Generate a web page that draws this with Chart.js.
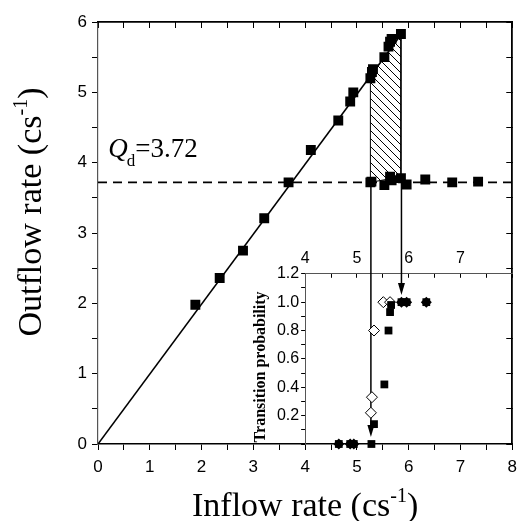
<!DOCTYPE html>
<html><head><meta charset="utf-8">
<script src="https://cdn.jsdelivr.net/npm/chart.js@4"></script>
<style>
html,body{margin:0;padding:0;background:#fff;}
#wrap{position:relative;width:524px;height:521px;}
#wrap canvas{position:absolute;left:0;top:0;}
</style></head><body>
<div id="wrap"><canvas id="main" width="524" height="521"></canvas><canvas id="inset" width="524" height="521"></canvas></div>
<script>
// ---------- data (main panel) ----------
const linearX = [1.88, 2.35, 2.80, 3.21, 3.68, 4.11, 4.64, 4.87, 4.93, 5.26, 5.29, 5.31, 5.53, 5.61, 5.64, 5.67, 5.85];
const linearY = [1.98, 2.36, 2.75, 3.21, 3.72, 4.18, 4.60, 4.87, 5.00, 5.20, 5.29, 5.33, 5.50, 5.65, 5.72, 5.76, 5.83];
const flatX = [5.26, 5.28, 5.53, 5.64, 5.67, 5.85, 5.96, 6.32, 6.84, 7.34];
const flatY = [3.72, 3.73, 3.68, 3.80, 3.75, 3.78, 3.69, 3.76, 3.72, 3.73];
const fitX = [0, 5.85];
const fitY = [0, 5.82];
const qdValue = 3.72;
const qdLabel = "3.72";
const hatchX = [5.26, 5.26, 5.85, 5.85, 5.26];
const hatchY = [3.72, 5.22, 5.83, 3.80, 3.72];
const arrowX = [5.27, 5.86];
const arrowFromY = [3.72, 3.78];     // main-panel outflow value
const arrowToP = [0.05, 1.05];       // inset probability value
const xTickLabels = [0, 1, 2, 3, 4, 5, 6, 7, 8];
const yTickLabels = [0, 1, 2, 3, 4, 5, 6];

// ---------- data (inset) ----------
const sqX = [5.28, 5.33, 5.53, 5.61, 5.64, 5.66];
const sqY = [0, 0.14, 0.42, 0.80, 0.93, 0.98];
const starX = [4.65, 4.87, 4.94, 5.86, 5.96, 6.34];
const starY = [0, 0, 0, 1.0, 1.0, 1.0];
const diaX = [5.27, 5.29, 5.33, 5.51, 5.64];
const diaY = [0.22, 0.33, 0.80, 1.0, 1.0];
const insetXTickLabels = [4, 5, 6, 7];
const insetYTickLabels = [0.2, 0.4, 0.6, 0.8, 1.0, 1.2];
const insetTopOutflow = 2.42;   // where the inset's top edge sits on the main y axis

const pts = (xs, ys) => xs.map((x, i) => ({x, y: ys[i]}));

const W = 524, H = 521;
const SANS = "'Liberation Sans', Arial, sans-serif";
const SERIF = "'Liberation Serif', 'Times New Roman', serif";

// hatch pattern
function hatchPattern() {
  const c = document.createElement('canvas');
  c.width = 8; c.height = 8;
  const g = c.getContext('2d');
  g.strokeStyle = '#000'; g.lineWidth = 1;
  g.beginPath();
  g.moveTo(-1, -1); g.lineTo(9, 9);
  g.moveTo(-1, 7); g.lineTo(1, 9);
  g.moveTo(7, -1); g.lineTo(9, 1);
  g.stroke();
  return document.getElementById('main').getContext('2d').createPattern(c, 'repeat');
}

function drawParts(ctx, parts, cx, cy) {
  let total = 0;
  parts.forEach(p => { ctx.font = p.font; total += ctx.measureText(p.t).width + (p.gap || 0); });
  let x = cx - total / 2;
  parts.forEach(p => {
    ctx.font = p.font;
    ctx.fillText(p.t, x, cy + (p.dy || 0));
    x += ctx.measureText(p.t).width + (p.gap || 0);
  });
}

const textPlugin = {
  id: 'texts',
  afterDraw(chart) {
    const ctx = chart.ctx;
    const xs = chart.scales.x, ys = chart.scales.y;
    ctx.save();
    ctx.fillStyle = '#000';
    ctx.textBaseline = 'alphabetic';
    ctx.textAlign = 'left';
    const big = '34px ' + SERIF, sup = '20px ' + SERIF;
    // x title
    drawParts(ctx, [{t: 'Inflow rate (cs', font: big}, {t: '-1', font: sup, dy: -14}, {t: ')', font: big}],
      (xs.left + xs.right) / 2, 516);
    // y title
    ctx.save();
    ctx.translate(41, (ys.top + ys.bottom) / 2 - 21);
    ctx.rotate(-Math.PI / 2);
    drawParts(ctx, [{t: 'Outflow rate (cs', font: big}, {t: '-1', font: sup, dy: -14}, {t: ')', font: big}], 0, 0);
    ctx.restore();
    // Qd label
    const qx = xs.getPixelForValue(0.2), qy = ys.getPixelForValue(4.08);
    ctx.font = 'italic 27px ' + SERIF;
    ctx.fillText('Q', qx, qy);
    let w = ctx.measureText('Q').width;
    ctx.font = '17px ' + SERIF;
    ctx.fillText('d', qx + w - 1, qy + 9);
    w += ctx.measureText('d').width - 1;
    ctx.font = '27px ' + SERIF;
    ctx.fillText('=' + qdLabel, qx + w, qy);
    ctx.restore();
  }
};

const minorAware = (labels) => (v) => labels.includes(Math.round(v * 1000) / 1000) ? String(v) : '';

const mainChart = new Chart(document.getElementById('main'), {
  type: 'scatter',
  data: {
    datasets: [
      { data: pts(hatchX, hatchY), showLine: true, fill: 'shape', backgroundColor: hatchPattern(),
        borderColor: '#000', borderWidth: 1, pointRadius: 0, order: 5, tension: 0 },
      { data: pts(fitX, fitY), showLine: true, borderColor: '#000', borderWidth: 1.6, pointRadius: 0, order: 4 },
      { data: [{x: 0, y: qdValue}, {x: 8, y: qdValue}], showLine: true, borderColor: '#000', borderWidth: 1.6,
        borderDash: [9, 6], pointRadius: 0, order: 3 },
      { data: pts(linearX, linearY), pointStyle: 'rect', pointRadius: 7, backgroundColor: '#000',
        borderColor: '#000', borderWidth: 0, order: 1 },
      { data: pts(flatX, flatY), pointStyle: 'rect', pointRadius: 7, backgroundColor: '#000',
        borderColor: '#000', borderWidth: 0, order: 1 }
    ]
  },
  options: {
    animation: false, responsive: false, events: [],
    layout: { padding: { left: 0, top: 22, right: 5, bottom: 0 } },
    plugins: { legend: { display: false }, tooltip: { enabled: false } },
    scales: {
      x: {
        type: 'linear', position: 'bottom', min: 0, max: 8,
        ticks: { stepSize: 0.5, autoSkip: false, maxRotation: 0, padding: 7, color: '#000',
          font: { family: SANS, size: 17 }, callback: minorAware(xTickLabels) },
        grid: { drawOnChartArea: false, tickLength: 6, color: '#000', tickWidth: 1 },
        border: { color: '#000', width: 1.5 },
        afterFit: s => { s.height = 77; }
      },
      y: {
        type: 'linear', position: 'left', min: 0, max: 6,
        ticks: { stepSize: 0.5, autoSkip: false, padding: 5, color: '#000',
          font: { family: SANS, size: 17 }, callback: minorAware(yTickLabels) },
        grid: { drawOnChartArea: false, tickLength: 6, color: '#000', tickWidth: 1 },
        border: { color: '#555', width: 1.2 },
        afterFit: s => { s.width = 98; }
      },
      xTop: {
        type: 'linear', position: 'top', min: 0, max: 8,
        ticks: { stepSize: 0.5, display: false },
        grid: { drawOnChartArea: false, tickLength: -6, color: '#000', tickWidth: 1 },
        border: { color: '#000', width: 1.8 },
        afterFit: s => { s.height = 0; }
      },
      yRight: {
        type: 'linear', position: 'right', min: 0, max: 6,
        ticks: { stepSize: 0.5, display: false },
        grid: { drawOnChartArea: false, tickLength: -6, color: '#000', tickWidth: 1 },
        border: { color: '#000', width: 1.8 },
        afterFit: s => { s.width = 0; }
      }
    }
  },
  plugins: [textPlugin]
});

// inset geometry from main scales
const mx = mainChart.scales.x, my = mainChart.scales.y;
const iL = mx.getPixelForValue(4), iR = mx.getPixelForValue(8);
const iB = my.getPixelForValue(0), iT = my.getPixelForValue(insetTopOutflow);

const insetPlugin = {
  id: 'insetExtras',
  beforeDatasetsDraw(chart) {
    const ctx = chart.ctx;
    const xi = chart.scales.xi, yi = chart.scales.yi;
    ctx.save();
    ctx.strokeStyle = '#000'; ctx.fillStyle = '#000'; ctx.lineWidth = 1.5;
    arrowX.forEach((ax, i) => {
      const px = mx.getPixelForValue(ax);
      const y0 = my.getPixelForValue(arrowFromY[i]);
      const y1 = yi.getPixelForValue(arrowToP[i]);
      ctx.beginPath(); ctx.moveTo(px, y0); ctx.lineTo(px, y1 - 10); ctx.stroke();
      ctx.beginPath(); ctx.moveTo(px - 3.5, y1 - 12); ctx.lineTo(px + 3.5, y1 - 12); ctx.lineTo(px, y1); ctx.closePath(); ctx.fill();
    });
    ctx.restore();
  },
  afterDraw(chart) {
    const ctx = chart.ctx;
    const yi = chart.scales.yi;
    ctx.save();
    ctx.fillStyle = '#000';
    ctx.font = 'bold 16px ' + SERIF;
    ctx.textAlign = 'center'; ctx.textBaseline = 'middle';
    ctx.translate(iL - 44, (yi.getPixelForValue(0) + yi.getPixelForValue(1.2)) / 2 + 8);
    ctx.rotate(-Math.PI / 2);
    ctx.fillText('Transition probability', 0, 0);
    ctx.restore();
  }
};

new Chart(document.getElementById('inset'), {
  type: 'scatter',
  data: {
    datasets: [
      { data: pts(sqX, sqY), xAxisID: 'xi', yAxisID: 'yi', pointStyle: 'rect', pointRadius: 5.5,
        backgroundColor: '#000', borderWidth: 0, clip: false },
      { data: pts(starX, starY), xAxisID: 'xi', yAxisID: 'yi', pointStyle: 'rect', pointRadius: 5.5,
        backgroundColor: '#000', borderWidth: 0, clip: false },
      { data: pts(starX, starY), xAxisID: 'xi', yAxisID: 'yi', pointStyle: 'rectRot', pointRadius: 5.5,
        backgroundColor: '#000', borderWidth: 0, clip: false },
      { data: pts(diaX, diaY), xAxisID: 'xi', yAxisID: 'yi', pointStyle: 'rectRot', pointRadius: 5.5,
        backgroundColor: '#fff', borderColor: '#000', borderWidth: 1, clip: false }
    ]
  },
  options: {
    animation: false, responsive: false, events: [],
    layout: { padding: { left: 0, top: 0, right: W - iR, bottom: H - iB } },
    plugins: { legend: { display: false }, tooltip: { enabled: false } },
    scales: {
      xi: {
        type: 'linear', position: 'top', min: 4, max: 8,
        ticks: { stepSize: 0.5, autoSkip: false, maxRotation: 0, padding: 10, color: '#000',
          font: { family: SANS, size: 16 }, callback: minorAware(insetXTickLabels) },
        grid: { drawOnChartArea: false, tickLength: -4, color: '#000', tickWidth: 1 },
        border: { color: '#555', width: 1 },
        afterFit: s => { s.height = iT; }
      },
      yi: {
        type: 'linear', position: 'left', min: 0, max: 1.2,
        ticks: { stepSize: 0.1, autoSkip: false, padding: 2, color: '#000',
          font: { family: SANS, size: 16 },
          callback: v => insetYTickLabels.includes(Math.round(v * 10) / 10) ? v.toFixed(1) : '' },
        grid: { drawOnChartArea: false, tickLength: 4, color: '#000', tickWidth: 1 },
        border: { color: '#555', width: 1 },
        afterFit: s => { s.width = iL; }
      }
    }
  },
  plugins: [insetPlugin]
});
</script>
</body></html>
